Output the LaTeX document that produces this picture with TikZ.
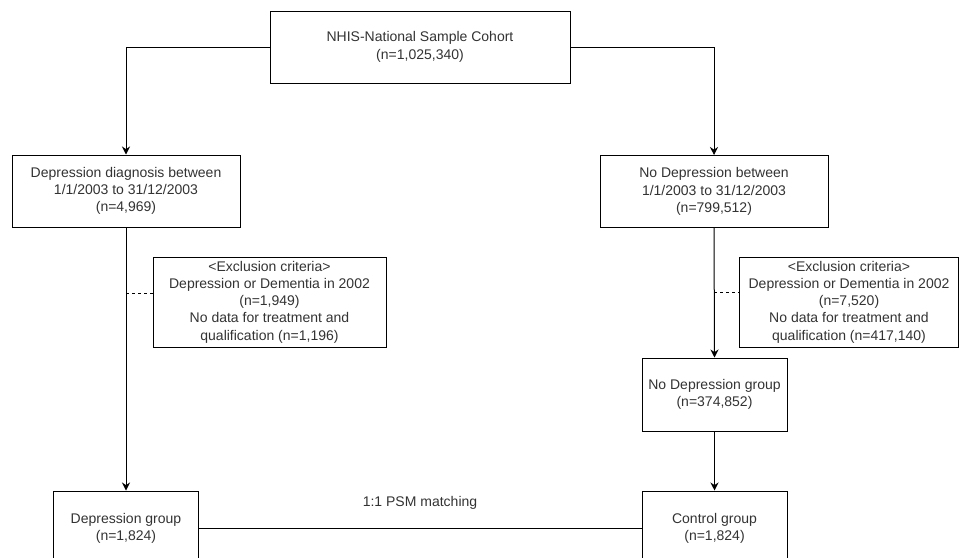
\documentclass[tikz,border=0pt]{standalone}
\usepackage{fontspec}
\setmainfont{Liberation Sans}
\usetikzlibrary{arrows.meta}
\definecolor{txt}{HTML}{333333}
\tikzset{
  box/.style={draw=black, line width=1pt, fill=white, align=center, inner sep=0pt,
    text=txt, font=\fontsize{14}{17.3}\selectfont},
  lbl/.style={text=txt, font=\fontsize{14}{17.3}\selectfont, inner sep=0pt},
  conn/.style={draw=black, line width=1pt},
  arr/.style={conn, -{Stealth[length=8pt,width=8pt]}},
  dsh/.style={draw=black, line width=0.8pt, dash pattern=on 3pt off 3pt}
}
\begin{document}
\begin{tikzpicture}[x=1pt,y=-1pt]
\useasboundingbox (0,0) rectangle (960,557);
\clip (0,0) rectangle (960,557);
\fill[white] (0,0) rectangle (960,557);

\node[box, minimum width=300pt, minimum height=72pt] (top) at (420,47)
  {NHIS-National Sample Cohort\\(n=1,025,340)};
\node[box, minimum width=228pt, minimum height=72pt] (dep) at (126,191)
  {Depression diagnosis between\\1/1/2003 to 31/12/2003\\(n=4,969)};
\node[box, minimum width=228pt, minimum height=72pt] (nodep) at (714,191.5)
  {No Depression between\\1/1/2003 to 31/12/2003\\(n=799,512)};
\node[box, minimum width=233pt, minimum height=90pt] (exclL) at (269.5,302)
  {<Exclusion criteria>\\Depression or Dementia in 2002\\(n=1,949)\\No data for treatment and\\qualification (n=1,196)};
\node[box, minimum width=219pt, minimum height=90pt] (exclR) at (849,302)
  {<Exclusion criteria>\\Depression or Dementia in 2002\\(n=7,520)\\No data for treatment and\\qualification (n=417,140)};
\node[box, minimum width=145pt, minimum height=73pt] (nodepgrp) at (714.5,394.5)
  {No Depression group\\(n=374,852)};
\node[box, minimum width=145pt, minimum height=75pt] (depgrp) at (126,528.5)
  {Depression group\\(n=1,824)};
\node[box, minimum width=145pt, minimum height=75pt] (ctrl) at (714.5,528.5)
  {Control group\\(n=1,824)};

\draw[arr] (top.west) -| (dep.north);
\draw[arr] (top.east) -| (nodep.north);
\draw[arr] (dep.south) -- (depgrp.north);
\draw[arr] (nodep.south) -- (nodepgrp.north);
\draw[arr] (nodepgrp.south) -- (ctrl.north);
\draw[conn] (depgrp.east) -- (ctrl.west);

\coordinate (dL) at (126,293);
\coordinate (dR) at (714,292);
\draw[dsh] (dL) -- (dL -| exclL.west);
\draw[dsh] (dR) -- (dR -| exclR.west);

\node[lbl] (psm) at (420,503) {1:1 PSM matching};
\end{tikzpicture}
\end{document}
